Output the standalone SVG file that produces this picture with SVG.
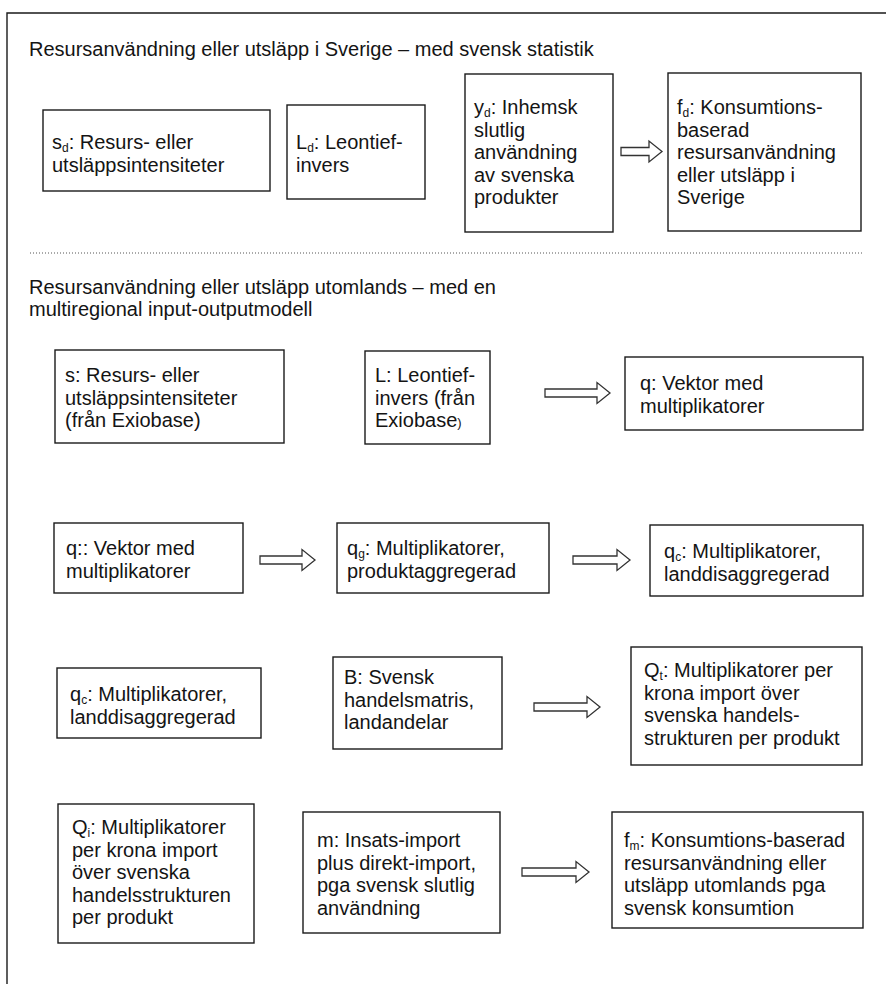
<svg xmlns="http://www.w3.org/2000/svg" width="886" height="984" viewBox="0 0 886 984">
<style>
text{font-family:"Liberation Sans",Arial,sans-serif;font-size:20px;fill:#141414}
.sub{font-size:12px}
.box{fill:#fff;stroke:#1a1a1a;stroke-width:1.4}
.arr{fill:#fff;stroke:#333;stroke-width:1.3;stroke-linejoin:miter}
.frame{stroke:#1a1a1a;stroke-width:1.4;fill:none}
</style>
<rect width="886" height="984" fill="#fff"/>
<path class="frame" d="M7,984 V13 H886"/>
<text x="29" y="56">Resursanvändning eller utsläpp i Sverige – med svensk statistik</text>
<line x1="30" y1="253" x2="862" y2="253" stroke="#555" stroke-width="1" stroke-dasharray="1,2"/>
<text x="29" y="294">Resursanvändning eller utsläpp utomlands – med en</text>
<text x="29" y="316">multiregional input-outputmodell</text>

<g id="n_sd"><rect class="box" x="43" y="110" width="227" height="81"/>
<text x="52" y="149">s<tspan class="sub" dy="2.5">d</tspan><tspan dy="-2.5">: Resurs- eller</tspan></text>
<text x="52" y="171.5">utsläppsintensiteter</text></g>

<g id="n_Ld"><rect class="box" x="287" y="105" width="138" height="94"/>
<text x="296" y="149">L<tspan class="sub" dy="2.5">d</tspan><tspan dy="-2.5">: Leontief-</tspan></text>
<text x="296" y="171.5">invers</text></g>

<g id="n_yd"><rect class="box" x="465" y="74" width="148" height="158"/>
<text x="474" y="114">y<tspan class="sub" dy="2.5">d</tspan><tspan dy="-2.5">: Inhemsk</tspan></text>
<text x="474" y="136.5">slutlig</text>
<text x="474" y="159">användning</text>
<text x="474" y="181.5">av svenska</text>
<text x="474" y="204">produkter</text></g>

<g id="n_fd"><rect class="box" x="668" y="73" width="193" height="158"/>
<text x="677" y="114">f<tspan class="sub" dy="2.5">d</tspan><tspan dy="-2.5">: Konsumtions-</tspan></text>
<text x="677" y="136.5">baserad</text>
<text x="677" y="159">resursanvändning</text>
<text x="677" y="181.5">eller utsläpp i</text>
<text x="677" y="204">Sverige</text></g>

<g id="n_s"><rect class="box" x="55" y="350" width="229" height="93"/>
<text x="65" y="382">s: Resurs- eller</text>
<text x="65" y="404.5">utsläppsintensiteter</text>
<text x="65" y="427">(från Exiobase)</text></g>

<g id="n_L"><rect class="box" x="365" y="351" width="125" height="93"/>
<text x="375" y="382">L: Leontief-</text>
<text x="375" y="404.5">invers (från</text>
<text x="375" y="427">Exiobase<tspan font-size="13">)</tspan></text></g>

<g id="n_q"><rect class="box" x="625" y="357" width="238" height="73"/>
<text x="640" y="390">q: Vektor med</text>
<text x="640" y="412.5">multiplikatorer</text></g>

<g id="n_q2"><rect class="box" x="54" y="523" width="189" height="70"/>
<text x="66" y="555">q:: Vektor med</text>
<text x="66" y="577.5">multiplikatorer</text></g>

<g id="n_qg"><rect class="box" x="337" y="523" width="212" height="70"/>
<text x="347" y="555">q<tspan class="sub" dy="2.5">g</tspan><tspan dy="-2.5">: Multiplikatorer,</tspan></text>
<text x="347" y="577.5">produktaggregerad</text></g>

<g id="n_qc"><rect class="box" x="650" y="525" width="213" height="71"/>
<text x="664" y="558">q<tspan class="sub" dy="2.5">c</tspan><tspan dy="-2.5">: Multiplikatorer,</tspan></text>
<text x="664" y="580.5">landdisaggregerad</text></g>

<g id="n_qc2"><rect class="box" x="57" y="668" width="204" height="70"/>
<text x="70" y="701">q<tspan class="sub" dy="2.5">c</tspan><tspan dy="-2.5">: Multiplikatorer,</tspan></text>
<text x="70" y="723.5">landdisaggregerad</text></g>

<g id="n_B"><rect class="box" x="333" y="657" width="169" height="92"/>
<text x="344" y="684">B: Svensk</text>
<text x="344" y="706.5">handelsmatris,</text>
<text x="344" y="729">landandelar</text></g>

<g id="n_Qt"><rect class="box" x="631" y="647" width="231" height="118"/>
<text x="644" y="677">Q<tspan class="sub" dy="2.5">t</tspan><tspan dy="-2.5">: Multiplikatorer per</tspan></text>
<text x="644" y="699.5">krona import över</text>
<text x="644" y="722">svenska handels-</text>
<text x="644" y="744.5">strukturen per produkt</text></g>

<g id="n_Qi"><rect class="box" x="58" y="804" width="196" height="139"/>
<text x="72" y="834">Q<tspan class="sub" dy="2.5">i</tspan><tspan dy="-2.5">: Multiplikatorer</tspan></text>
<text x="72" y="856.5">per krona import</text>
<text x="72" y="879">över svenska</text>
<text x="72" y="901.5">handelsstrukturen</text>
<text x="72" y="924">per produkt</text></g>

<g id="n_m"><rect class="box" x="303" y="812" width="197" height="121"/>
<text x="317" y="847">m: Insats-import</text>
<text x="317" y="869.5">plus direkt-import,</text>
<text x="317" y="892">pga svensk slutlig</text>
<text x="317" y="914.5">användning</text></g>

<g id="n_fm"><rect class="box" x="612" y="812" width="251" height="116"/>
<text x="624" y="847">f<tspan class="sub" dy="2.5">m</tspan><tspan dy="-2.5">: Konsumtions-baserad</tspan></text>
<text x="624" y="869.5">resursanvändning eller</text>
<text x="624" y="892">utsläpp utomlands pga</text>
<text x="624" y="914.5">svensk konsumtion</text></g>

<g id="connectors">
<path class="arr" d="M621,147.5 H649 V141 L662,151.5 L649,162 V155.5 H621 Z"/>
<path class="arr" d="M545,389 H597 V382.5 L610,393 L597,403.5 V397 H545 Z"/>
<path class="arr" d="M260,556 H302 V549.5 L315,560 L302,570.5 V564 H260 Z"/>
<path class="arr" d="M573,556 H617 V549.5 L630,560 L617,570.5 V564 H573 Z"/>
<path class="arr" d="M534,703 H587 V696.5 L600,707 L587,717.5 V711 H534 Z"/>
<path class="arr" d="M522,868 H576 V861.5 L589,872 L576,882.5 V876 H522 Z"/>
</g>
</svg>
